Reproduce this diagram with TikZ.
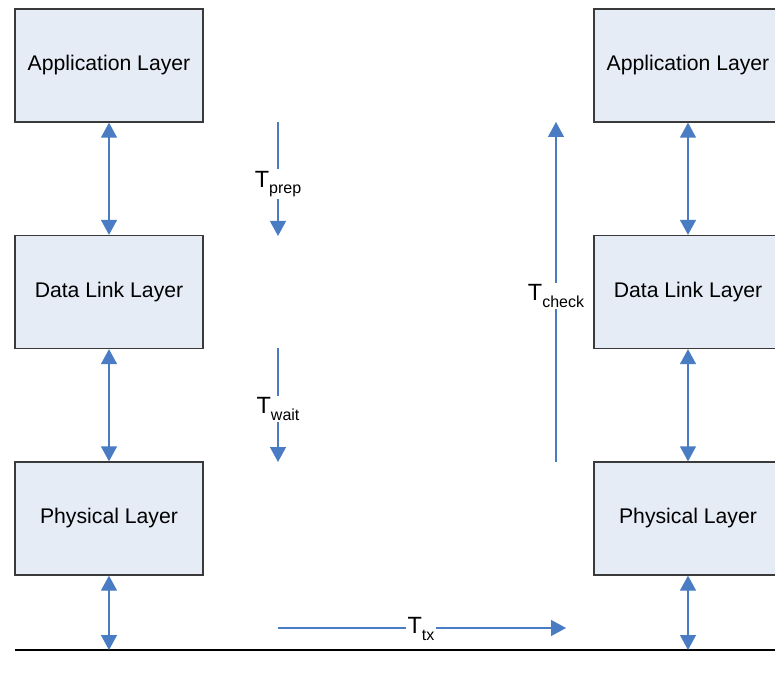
\documentclass[tikz,border=0pt]{standalone}
\usepackage{fontspec}
\setmainfont{Liberation Sans}
\usetikzlibrary{arrows.meta}
\definecolor{layerfill}{HTML}{E6ECF6}
\definecolor{layerline}{HTML}{3A3A3A}
\definecolor{flow}{HTML}{4A7CC4}
\newcommand{\tlabel}[1]{T\raisebox{-0.5ex}{\fontsize{16}{16}\selectfont #1}}
\tikzset{
  tip/.tip={Triangle[width=16pt,length=15pt]},
  layer/.style={draw=layerline, line width=1.3pt, fill=layerfill,
    minimum width=188pt, minimum height=113pt, inner sep=0pt,
    font=\fontsize{21.2}{24}\selectfont},
  link/.style={draw=flow, line width=1.3pt, tip-tip},
  timing/.style={draw=flow, line width=1.3pt, -tip},
  tlab/.style={fill=white, inner sep=2pt, font=\fontsize{23.5}{26}\selectfont}
}
\begin{document}
\begin{tikzpicture}[x=1pt,y=1pt]
  \useasboundingbox (0,0) rectangle (775,672);
  \clip (0,0) rectangle (775,672);

  % sender stack
  \node[layer] (appL) at (109,606.5) {Application Layer};
  \node[layer] (dllL) at (109,380)   {Data Link Layer};
  \node[layer] (phyL) at (109,153.5) {Physical Layer};

  % receiver stack (runs off the right edge)
  \node[layer] (appR) at (688,606.5) {Application Layer};
  \node[layer] (dllR) at (688,380)   {Data Link Layer};
  \node[layer] (phyR) at (688,153.5) {Physical Layer};

  % medium
  \coordinate (medL) at (15,22);
  \coordinate (medR) at (775,22);
  \draw[black, line width=1.3pt] (medL) -- (medR);
  \coordinate (tapL) at (109,22);
  \coordinate (tapR) at (688,22);

  % interfaces between layers
  \draw[link] (appL.south) -- (dllL.north);
  \draw[link] (dllL.south) -- (phyL.north);
  \draw[link] (phyL.south) -- (tapL);
  \draw[link] (appR.south) -- (dllR.north);
  \draw[link] (dllR.south) -- (phyR.north);
  \draw[link] (phyR.south) -- (tapR);

  % timing components
  \coordinate (prepA) at (278,550);
  \coordinate (prepB) at (278,436);
  \draw[timing] (prepA) -- (prepB);
  \node[tlab] (tprep) at (278,488) {\tlabel{prep}};

  \coordinate (waitA) at (278,324);
  \coordinate (waitB) at (278,210);
  \draw[timing] (waitA) -- (waitB);
  \node[tlab] (twait) at (278,263) {\tlabel{wait}};

  \coordinate (checkA) at (556,210);
  \coordinate (checkB) at (556,550);
  \draw[timing] (checkA) -- (checkB);
  \node[tlab] (tcheck) at (556,376) {\tlabel{check}};

  \coordinate (txA) at (278,44);
  \coordinate (txB) at (566,44);
  \draw[timing] (txA) -- (txB);
  \node[tlab] (ttx) at (421,43) {\tlabel{tx}};
\end{tikzpicture}
\end{document}
